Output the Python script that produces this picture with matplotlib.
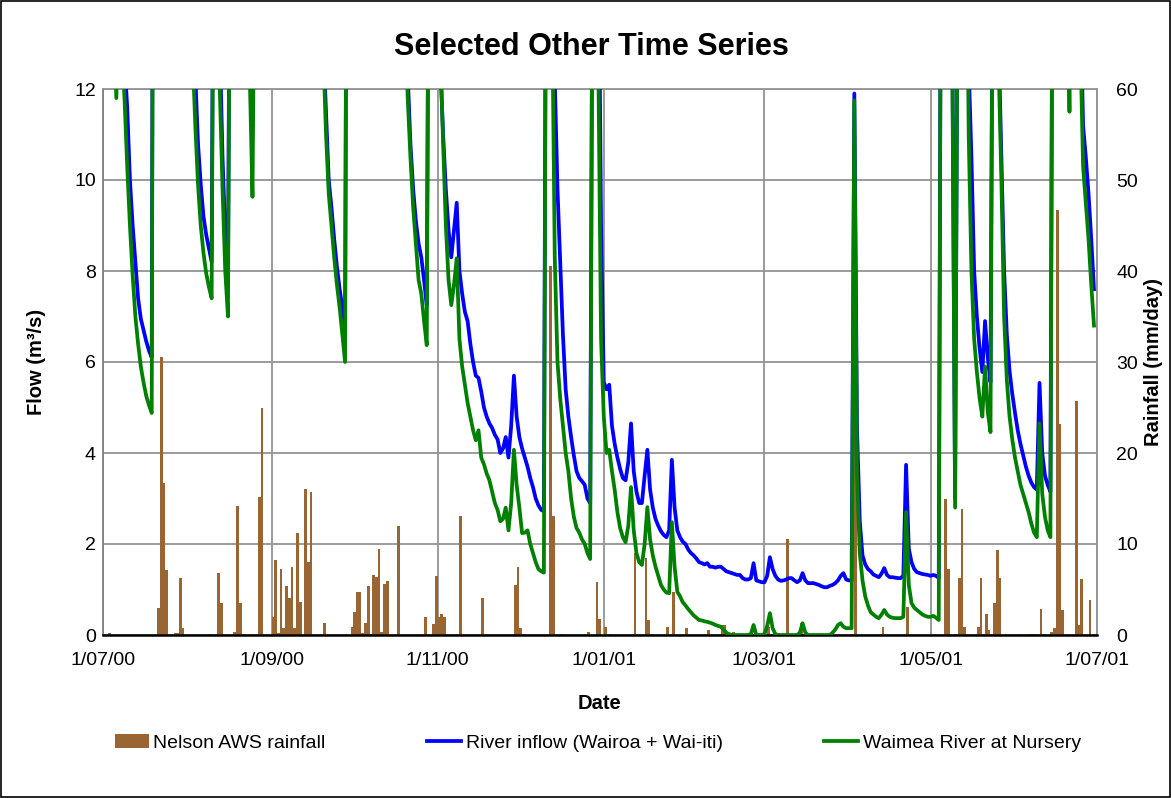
import numpy as np
import matplotlib
matplotlib.use("Agg")
import matplotlib.pyplot as plt
from matplotlib.patches import Rectangle, Patch
from matplotlib.lines import Line2D

plt.rcParams['font.family'] = ['Liberation Sans', 'DejaVu Sans']

# ---------------- data ----------------
date_ticks = [0, 62, 123, 184, 243, 304, 365]
date_labels = ["1/07/00", "1/09/00", "1/11/00", "1/01/01", "1/03/01", "1/05/01", "1/07/01"]

# daily flows (m3/s), day 0 = 1 July 2000 ; values above 12 run off the top of the chart
inflow = [
    14, 15, 16, 15, 14, 12.4, 14, 13.5, 12.6, 11.6,
    10.0, 9.0, 8.2, 7.4, 6.95, 6.7, 6.45, 6.25, 6.1, 30,
    40, 45, 38, 30, 26, 24, 22, 20, 19, 18,
    17, 16, 15, 14, 12.3, 10.8, 9.9, 9.2, 8.8, 8.5,
    8.2, 20, 18, 13, 10.5, 8.8, 7.8, 20, 22, 30,
    28, 22, 19, 17, 13.5, 11.2, 17, 25, 40, 45,
    38, 32, 28, 30, 29, 28, 27, 27, 26, 27,
    26, 30, 29, 26, 32, 34, 36, 30, 24, 19,
    15, 13, 11.5, 10.0, 9.4, 8.7, 8.1, 7.6, 7.2, 6.8,
    25, 30, 28, 30, 32, 28, 26, 28, 30, 32,
    33, 35, 30, 30, 31, 28, 24, 22, 30, 26,
    20, 14, 12.3, 10.8, 9.8, 9.1, 8.6, 8.3, 7.8, 7.25,
    20, 25, 28, 18, 12.5, 11.0, 9.8, 8.9, 8.3, 8.9,
    9.5, 8.0, 7.5, 7.1, 6.9, 6.4, 6.0, 5.7, 5.65, 5.35,
    5.0, 4.8, 4.65, 4.55, 4.4, 4.3, 4.0, 4.1, 4.35, 3.9,
    4.6, 5.7, 4.8, 4.35, 4.1, 3.9, 3.7, 3.45, 3.25, 3.0,
    2.85, 2.75, 2.72, 20, 35, 16, 12.2, 9.8, 8.2, 6.6,
    5.4, 4.8, 4.35, 3.95, 3.6, 3.45, 3.38, 3.3, 3.0, 2.9,
    18, 22, 16, 9, 5.56, 5.4, 5.5, 4.6, 4.2, 3.9,
    3.65, 3.45, 3.4, 3.8, 4.65, 3.6, 3.15, 2.9, 2.9, 3.5,
    4.07, 3.2, 2.8, 2.55, 2.4, 2.28, 2.2, 2.15, 2.3, 3.85,
    2.8, 2.3, 2.15, 2.05, 2.0, 1.88, 1.8, 1.75, 1.68, 1.6,
    1.58, 1.55, 1.58, 1.5, 1.5, 1.48, 1.5, 1.5, 1.45, 1.4,
    1.38, 1.36, 1.34, 1.32, 1.32, 1.25, 1.22, 1.22, 1.25, 1.58,
    1.2, 1.18, 1.16, 1.16, 1.3, 1.71, 1.45, 1.3, 1.22, 1.19,
    1.2, 1.22, 1.25, 1.25, 1.2, 1.16, 1.2, 1.36, 1.2, 1.14,
    1.14, 1.14, 1.12, 1.1, 1.07, 1.05, 1.05, 1.08, 1.1, 1.14,
    1.2, 1.3, 1.36, 1.22, 1.2, 1.2, 11.9, 4.5, 2.5, 1.75,
    1.55, 1.45, 1.4, 1.33, 1.3, 1.27, 1.35, 1.47, 1.32, 1.27,
    1.27, 1.26, 1.25, 1.25, 1.3, 3.74, 1.9, 1.6, 1.45, 1.38,
    1.36, 1.34, 1.33, 1.32, 1.3, 1.32, 1.3, 1.25, 20, 30,
    25, 18, 13, 3.0, 16, 30, 25, 18, 12.5, 10.5,
    8.0, 7.0, 6.3, 5.78, 6.9, 6.1, 5.56, 18, 25, 13,
    10.5, 8.0, 6.6, 5.8, 5.3, 4.88, 4.5, 4.2, 3.95, 3.7,
    3.5, 3.35, 3.25, 3.2, 5.54, 4.0, 3.5, 3.3, 3.15, 20,
    45, 40, 30, 24, 16, 12.6, 22, 30, 22, 14,
    11.2, 10.5, 9.7, 8.7, 7.6,
]

waimea = [
    13.5, 14.5, 15.5, 14.5, 13.5, 11.8, 14, 13, 11.8, 10.3,
    9.0, 7.9, 7.0, 6.4, 5.9, 5.55, 5.25, 5.05, 4.88, 30,
    40, 45, 38, 30, 26, 24, 22, 20, 19, 18,
    17, 16, 15, 12.8, 11.2, 9.9, 9.0, 8.4, 7.95, 7.65,
    7.4, 20, 17, 12, 9.8, 8.0, 7.0, 20, 22, 30,
    28, 22, 19, 16, 12.3, 9.63, 17, 25, 40, 45,
    38, 32, 28, 30, 29, 28, 27, 27, 26, 27,
    26, 30, 29, 26, 32, 34, 36, 30, 24, 18,
    14, 12.8, 11.0, 9.7, 9.0, 8.3, 7.7, 7.2, 6.6, 6.0,
    25, 30, 28, 30, 32, 28, 26, 28, 30, 32,
    33, 35, 30, 30, 31, 28, 24, 22, 30, 26,
    20, 13.5, 11.8, 10.5, 9.4, 8.6, 7.8, 7.5, 6.9, 6.37,
    20, 25, 28, 16, 12.8, 10.8, 9.0, 7.8, 7.25, 7.7,
    8.28, 6.5, 5.9, 5.5, 5.1, 4.8, 4.5, 4.28, 4.5, 3.9,
    3.75, 3.55, 3.4, 3.15, 2.9, 2.75, 2.5, 2.55, 2.8, 2.3,
    2.9, 4.07, 3.3, 2.8, 2.24, 2.25, 2.3, 2.0, 1.8, 1.6,
    1.45, 1.4, 1.37, 20, 35, 14, 8.3, 6.0, 5.2, 4.6,
    4.0, 3.6, 3.0, 2.6, 2.35, 2.25, 2.1, 2.0, 1.8, 1.67,
    18, 22, 12.5, 6.5, 4.8, 4.0, 4.07, 3.6, 3.19, 2.7,
    2.35, 2.15, 2.04, 2.4, 3.25, 2.3, 1.8, 1.6, 1.54, 2.0,
    2.81, 2.1, 1.75, 1.5, 1.3, 1.1, 1.0, 0.93, 0.92, 2.48,
    1.5, 0.95, 0.85, 0.72, 0.65, 0.57, 0.5, 0.43, 0.38, 0.33,
    0.32, 0.3, 0.29, 0.27, 0.25, 0.22, 0.2, 0.18, 0.12, 0.05,
    0.02, 0.0, 0.0, 0.0, 0.0, 0.0, 0.0, 0.0, 0.02, 0.22,
    0.0, 0.0, 0.0, 0.02, 0.2, 0.48, 0.15, 0.02, 0.0, 0.0,
    0.0, 0.0, 0.0, 0.0, 0.0, 0.0, 0.05, 0.26, 0.05, 0.0,
    0.0, 0.0, 0.0, 0.0, 0.0, 0.0, 0.0, 0.0, 0.05, 0.12,
    0.22, 0.26, 0.18, 0.15, 0.15, 0.15, 11.75, 3.5, 1.8, 1.2,
    0.85, 0.65, 0.5, 0.45, 0.4, 0.37, 0.45, 0.55, 0.45, 0.4,
    0.38, 0.37, 0.37, 0.37, 0.4, 2.7, 1.1, 0.7, 0.6, 0.55,
    0.5, 0.45, 0.42, 0.4, 0.4, 0.42, 0.38, 0.33, 20, 30,
    25, 18, 12.5, 2.8, 16, 30, 25, 17, 11.0, 8.0,
    6.5, 5.78, 5.2, 4.8, 5.9, 4.9, 4.46, 18, 25, 12.5,
    10.0, 7.0, 5.6, 4.8, 4.3, 3.9, 3.6, 3.3, 3.1, 2.9,
    2.7, 2.45, 2.25, 2.15, 4.65, 3.1, 2.6, 2.3, 2.15, 20,
    45, 40, 30, 24, 16, 11.5, 22, 30, 22, 13,
    10.3, 9.5, 8.7, 7.7, 6.8,
]

# daily rainfall (mm/day), only rain days listed
rain_days = [2, 20, 21, 22, 23, 26, 27, 28, 29, 39, 42, 43, 48, 49, 50, 54, 57, 58,
             62, 63, 64, 65, 66, 67, 68, 69, 70, 71, 72, 74, 75, 76, 81, 91, 92, 93,
             94, 95, 96, 97, 99, 100, 101, 102, 103, 104, 108, 118, 121, 122, 123,
             124, 125, 131, 139, 151, 152, 153, 164, 165, 168, 178, 181, 182, 184,
             186, 195, 199, 200, 207, 209, 214, 222, 227, 228, 231, 244, 251, 256,
             276, 286, 295, 309, 310, 314, 315, 316, 321, 322, 324, 325, 327, 328,
             329, 336, 340, 341, 342, 344, 348, 349, 350, 351, 352, 354, 357, 358,
             359, 362]
rain_mm = [0.2, 3.0, 30.6, 16.7, 7.1, 0.2, 0.2, 6.3, 0.75, 0.1, 6.8, 3.55, 0.37, 14.2,
           3.55, 0.1, 15.2, 24.9,
           1.95, 8.2, 0.2, 7.3, 0.8, 5.4, 4.1, 7.5, 0.8, 11.2, 3.6, 16.0, 8.0, 15.75,
           1.35, 0.9, 2.56, 4.76,
           4.76, 0.2, 1.35, 5.4, 6.6, 6.4, 9.5, 0.37, 5.6, 5.9, 12.0, 1.95, 1.17, 6.5,
           1.95,
           2.3, 1.95, 13.1, 4.1, 5.5, 7.5, 0.75, 40.5, 13.1, 0.1, 0.3, 5.8, 1.75, 0.9,
           0.1, 9.0, 8.5, 1.7, 0.9, 4.76, 0.75, 0.55, 1.1, 1.1, 0.3, 0.9, 10.5, 1.3,
           32.7, 0.9, 3.1, 14.9, 7.3, 6.3, 13.9, 0.9, 0.9, 6.3, 2.3, 0.55, 3.55, 9.3,
           6.3, 0.1, 0.1, 0.1, 0.1, 2.9, 0.3, 0.75, 46.7, 23.2, 2.75, 0.1, 25.7, 1.1,
           6.1, 3.9]

flow_ticks = [0, 2, 4, 6, 8, 10, 12]
rain_ticks = [0, 10, 20, 30, 40, 50, 60]

# ---------------- figure ----------------
W, H = 1171, 798
fig = plt.figure(figsize=(W / 100, H / 100), dpi=100)
fig.patch.set_facecolor('white')

L, R, T, B = 102.7, 1096.7, 89, 635
ax = fig.add_axes([L / W, 1 - B / H, (R - L) / W, (B - T) / H])
axr = ax.twinx()
ax.set_zorder(axr.get_zorder() + 1)
ax.patch.set_visible(False)

rain_col = '#996633'
blue = '#0000ff'
green = '#008000'
gridc = '#939393'

# rainfall bars (right axis, behind)
axr.bar(np.array(rain_days) + 0.5, rain_mm, width=1.0, color=rain_col,
        edgecolor='none', zorder=3)
axr.set_ylim(0, 60)
axr.set_yticks(rain_ticks)
axr.grid(axis='y', color=gridc, lw=1.3, zorder=0)
axr.set_axisbelow(True)
for xt in date_ticks:
    axr.axvline(xt, color=gridc, lw=1.3, zorder=0.5)

# flow lines (left axis, front)
days = np.arange(len(inflow))
ax.plot(days, inflow, color=blue, lw=2.7, solid_joinstyle='round', zorder=3)
ax.plot(days, waimea, color=green, lw=2.7, solid_joinstyle='round', zorder=4)
ax.set_xlim(0, 365)
ax.set_ylim(0, 12)
ax.set_yticks(flow_ticks)
ax.set_xticks(date_ticks)
ax.set_xticklabels(date_labels)

for a in (ax, axr):
    for s in a.spines.values():
        s.set_visible(False)
ax.spines['left'].set_visible(True)
ax.spines['left'].set_color('#808080')
ax.spines['left'].set_linewidth(1.3)
ax.spines['bottom'].set_visible(True)
ax.spines['bottom'].set_color('black')
ax.spines['bottom'].set_linewidth(1.8)
ax.spines['top'].set_visible(True)
ax.spines['top'].set_color(gridc)
ax.spines['top'].set_linewidth(1.3)
ax.spines['right'].set_visible(True)
ax.spines['right'].set_color(gridc)
ax.spines['right'].set_linewidth(1.3)

ax.tick_params(axis='y', length=0, pad=5, labelsize=14)
ax.tick_params(axis='x', length=0, pad=12, labelsize=14)
axr.tick_params(axis='y', length=0, pad=14, labelsize=14)

ax.set_ylabel('Flow (m³/s)', fontsize=14.5, fontweight='bold', labelpad=20)
axr.set_ylabel('Rainfall (mm/day)', fontsize=14.5, fontweight='bold',
               rotation=90, labelpad=4)
ax.set_xlabel('Date', fontsize=14.5, fontweight='bold', labelpad=18)

fig.text(0.505, 1 - 47 / H, 'Selected Other Time Series', ha='center', va='center',
         fontsize=22, fontweight='bold')

handles = [Patch(facecolor=rain_col, edgecolor='none'),
           Line2D([], [], color=blue, lw=2.7),
           Line2D([], [], color=green, lw=2.7)]
labels = ['Nelson AWS rainfall', 'River inflow (Wairoa + Wai-iti)', 'Waimea River at Nursery']
fig.legend(handles, labels, ncol=3, frameon=False, fontsize=14,
           loc='center left', bbox_to_anchor=(97 / W, 1 - 743 / H),
           handlelength=1.75, handleheight=0.7, handletextpad=0.25, columnspacing=5.2)

fig.add_artist(Rectangle((0.0006, 0.001), 0.9985, 0.998, transform=fig.transFigure,
                         fill=False, ec='black', lw=1.2))

fig.savefig('out.png', dpi=100, facecolor='white')
